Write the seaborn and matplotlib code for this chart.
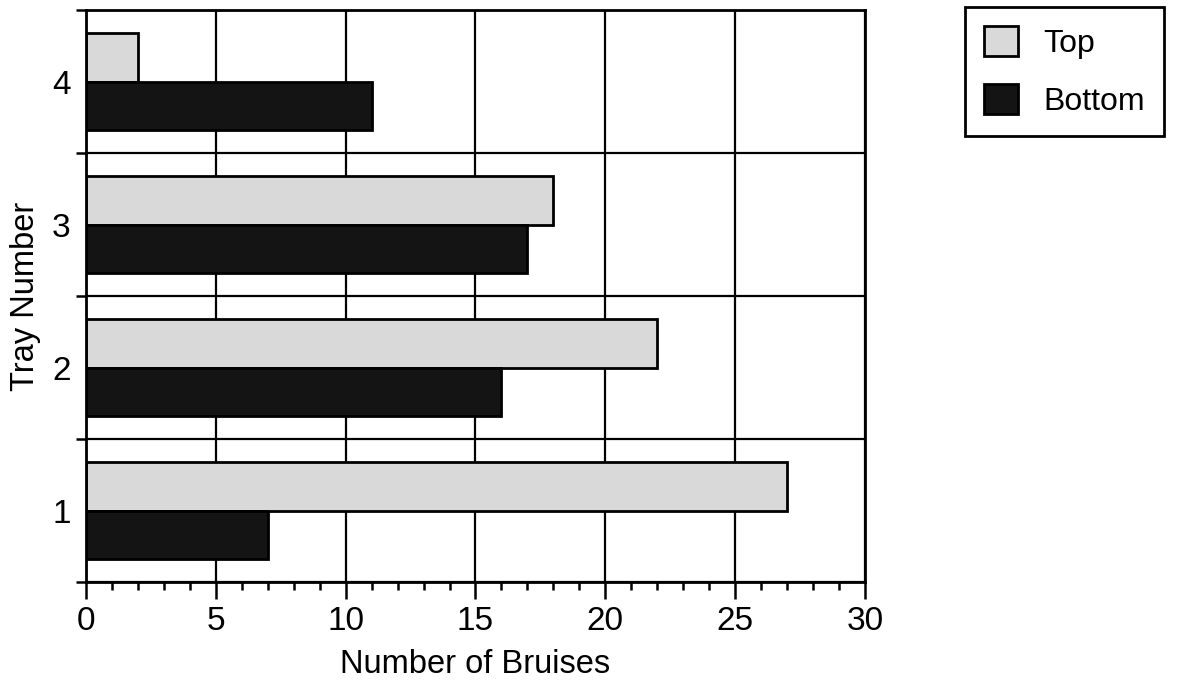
import matplotlib
matplotlib.use("Agg")
import matplotlib.pyplot as plt
from matplotlib.ticker import MultipleLocator, FixedLocator
import seaborn as sns
import pandas as pd

# values
trays = ["4", "3", "2", "1"]
top_bruises = [2, 18, 22, 27]
bottom_bruises = [11, 17, 16, 7]
positions = ["Top", "Bottom"]

df = pd.DataFrame({
    "Tray": trays * 2,
    "Bruises": top_bruises + bottom_bruises,
    "Position": ["Top"] * len(trays) + ["Bottom"] * len(trays),
})

sns.set_style("white")
plt.rcParams["font.family"] = ["Liberation Sans", "DejaVu Sans"]
plt.rcParams["text.color"] = "black"
plt.rcParams["axes.labelcolor"] = "black"
plt.rcParams["xtick.color"] = "black"
plt.rcParams["ytick.color"] = "black"

fig = plt.figure(figsize=(11.84, 6.82), dpi=100)
ax = fig.add_axes([0.0726, 0.1466, 0.658, 0.8387])

sns.barplot(data=df, x="Bruises", y="Tray", hue="Position",
            order=trays, hue_order=positions,
            palette={"Top": "#d9d9d9", "Bottom": "#141414"},
            width=0.68, orient="h", saturation=1,
            edgecolor="black", linewidth=2, ax=ax)

# axes limits and ticks
ax.set_xlim(0, 30)
ax.set_ylim(3.5, -0.5)
ax.xaxis.set_major_locator(MultipleLocator(5))
ax.xaxis.set_minor_locator(MultipleLocator(1))
ax.set_yticks(range(len(trays)))
ax.set_yticklabels(trays)
ax.yaxis.set_minor_locator(FixedLocator([-0.5, 0.5, 1.5, 2.5, 3.5]))

ax.tick_params(axis="x", which="major", direction="out", length=12, width=1.8,
               labelsize=24, pad=5, bottom=True)
ax.tick_params(axis="x", which="minor", direction="out", length=6, width=1.8,
               bottom=True)
ax.tick_params(axis="y", which="major", length=0, labelsize=24, pad=11)
ax.tick_params(axis="y", which="minor", direction="out", length=7, width=1.8,
               left=True)

# grid: vertical at major x ticks, horizontal at tray boundaries
ax.set_axisbelow(True)
ax.grid(axis="x", which="major", color="black", linewidth=1.6)
ax.grid(axis="y", which="minor", color="black", linewidth=1.6)

for s in ax.spines.values():
    s.set_visible(True)
    s.set_color("black")
    s.set_linewidth(2)

ax.set_xlabel("Number of Bruises", fontsize=23.5, labelpad=9)
ax.set_ylabel("Tray Number", fontsize=23.5, labelpad=8)

handles, labels = ax.get_legend_handles_labels()
ax.get_legend().remove()
leg = fig.legend(handles, labels, loc="upper left",
                 bbox_to_anchor=(965 / 1184, 1 - 7 / 682),
                 borderaxespad=0,
                 fontsize=23, frameon=True, fancybox=False,
                 edgecolor="black", framealpha=1,
                 handlelength=1.05, handleheight=1.05, handletextpad=0.8,
                 labelspacing=0.8, borderpad=0.6)
leg.get_frame().set_linewidth(2)

fig.savefig("out.png", dpi=100)
